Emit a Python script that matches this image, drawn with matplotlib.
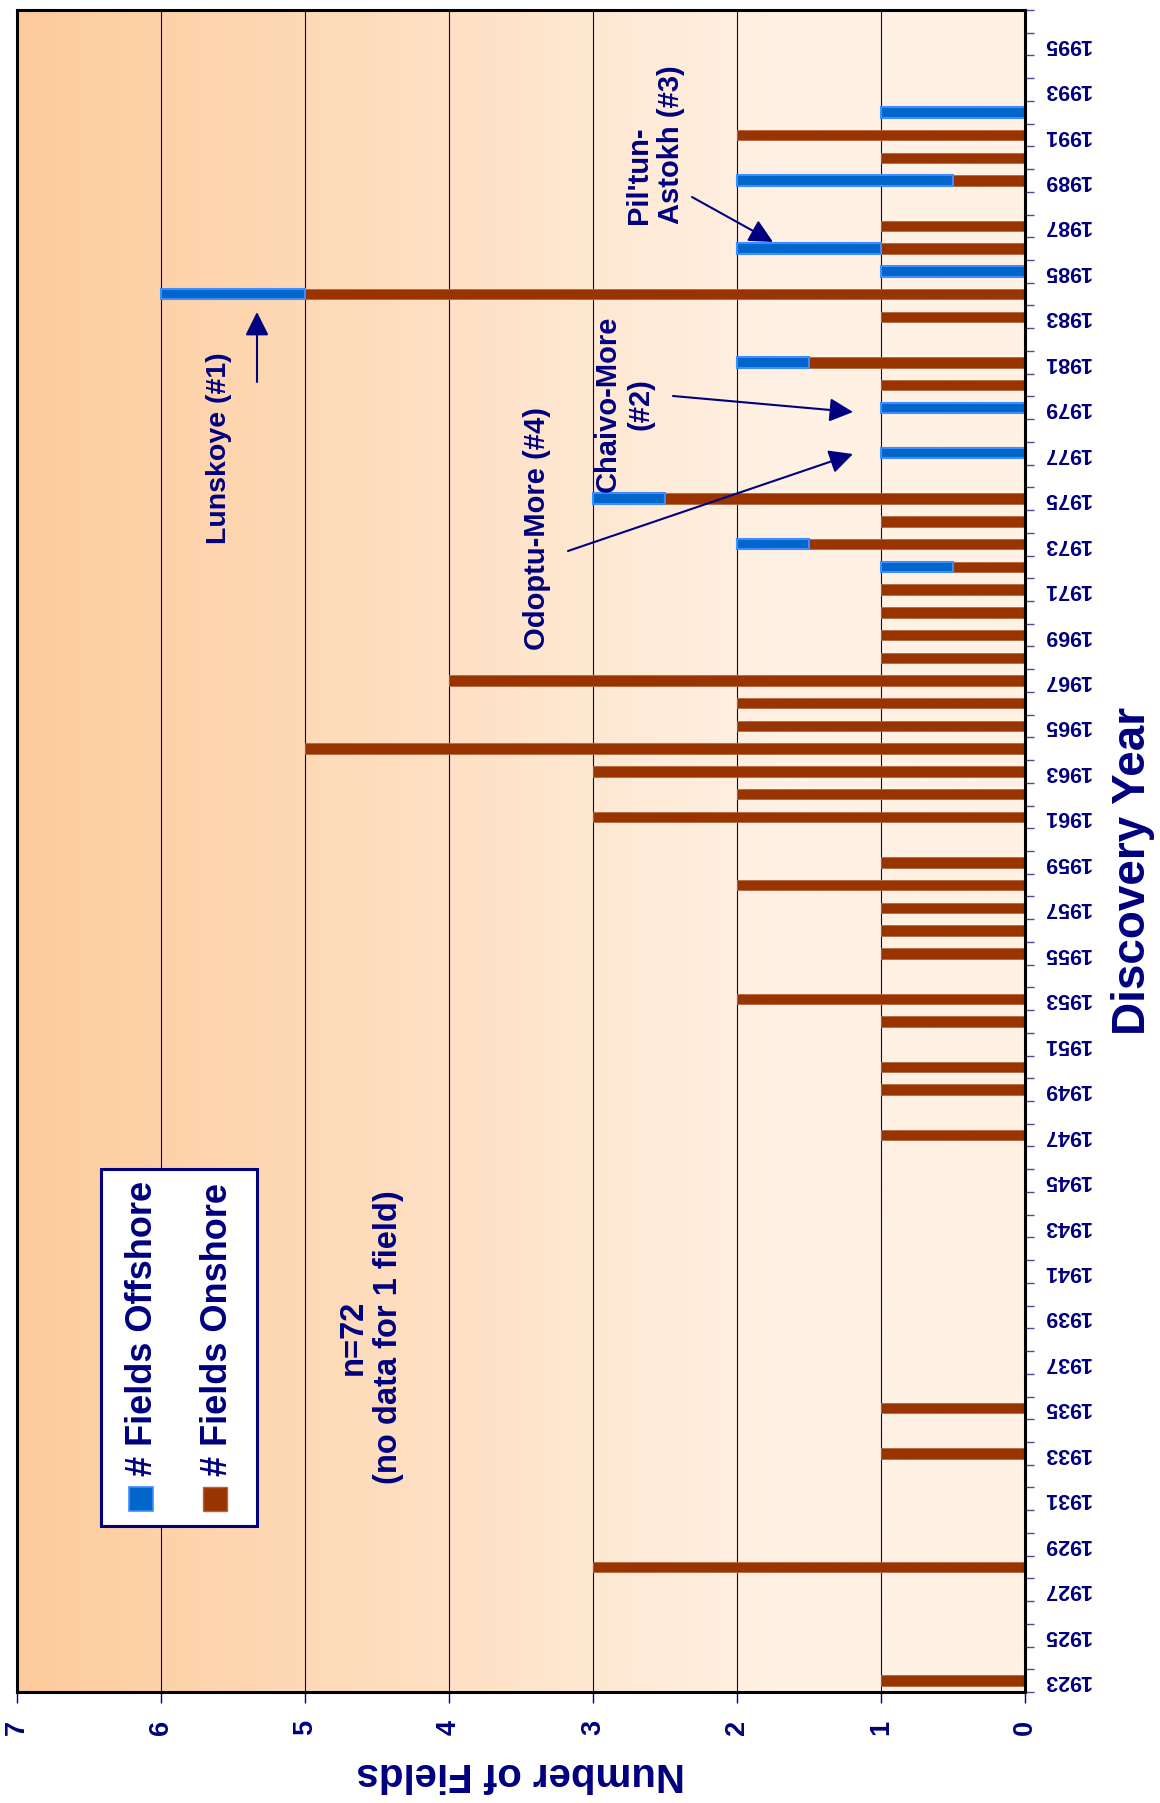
import numpy as np
import matplotlib
matplotlib.use('Agg')
import matplotlib.pyplot as plt
from matplotlib.patches import Rectangle

plt.rcParams['font.family'] = ['Liberation Sans', 'DejaVu Sans']
plt.rcParams['font.weight'] = 'bold'

# discovery years that have at least one field
years = [1923, 1928, 1933, 1935, 1947, 1949, 1950, 1952, 1953,
         1955, 1956, 1957, 1958, 1959,
         1961, 1962, 1963, 1964, 1965, 1966, 1967,
         1968, 1969, 1970, 1971, 1972, 1973, 1974, 1975,
         1977, 1979, 1980, 1981, 1983, 1984, 1985, 1986, 1987,
         1989, 1990, 1991, 1992]
onshore = [1, 3, 1, 1, 1, 1, 1, 1, 2,
           1, 1, 1, 2, 1,
           3, 2, 3, 5, 2, 2, 4,
           1, 1, 1, 1, 0.5, 1.5, 1, 2.5,
           0, 0, 1, 1.5, 1, 5, 0, 1, 1,
           0.5, 1, 2, 0]
offshore = [0, 0, 0, 0, 0, 0, 0, 0, 0,
            0, 0, 0, 0, 0,
            0, 0, 0, 0, 0, 0, 0,
            0, 0, 0, 0, 0.5, 0.5, 0, 0.5,
            1, 1, 0, 0.5, 0, 1, 1, 1, 0,
            1.5, 0, 0, 1]
year_labels = list(range(1923, 1997, 2))
value_ticks = [0, 1, 2, 3, 4, 5, 6, 7]

NAVY = '#000080'
BROWN = '#993300'
BLUE = '#0066CC'

W, H = 1160, 1803
def fx(px):
    return px / W
def fy(py):
    return 1 - py / H

fig = plt.figure(figsize=(11.6, 18.03), dpi=100)
ax = fig.add_axes([fx(17), fy(1692), (1025 - 17) / W, (1692 - 10) / H])

ax.set_xlim(7, 0)
ax.set_ylim(1922.5, 1996.5)

# background gradient (orange on the left, pale on the right)
c0 = np.array([253, 203, 155]) / 255
c1 = np.array([255, 241, 227]) / 255
t = np.linspace(0, 1, 300)
t = np.clip(t / 0.75, 0, 1)
grad = (c0[None, :] * (1 - t[:, None]) + c1[None, :] * t[:, None])[None, :, :]
ax.imshow(grad, extent=[7, 0, 1922.5, 1996.5], aspect='auto', zorder=0,
          interpolation='bilinear')

for v in value_ticks[1:-1]:
    ax.axvline(v, color=NAVY, lw=0.8, zorder=1)

yrs = np.array(years)
on = np.array(onshore, dtype=float)
off = np.array(offshore, dtype=float)
m_on = on > 0
m_off = off > 0
ax.barh(yrs[m_on], on[m_on], height=0.46, color=BROWN, edgecolor='#B5683E',
        lw=0.6, zorder=3)
ax.barh(yrs[m_off], off[m_off], left=on[m_off], height=0.46, color=BLUE,
        edgecolor='#3F8CFF', lw=1.5, zorder=3)

for s in ax.spines.values():
    s.set_color('black')
    s.set_linewidth(2.2)
    s.set_zorder(5)

# value axis (bottom)
ax.set_xticks(value_ticks)
ax.tick_params(axis='x', direction='out', length=8, width=1, color=NAVY,
               labelcolor=NAVY, labelsize=19.5, pad=12, labelrotation=90)

# year axis (right)
ax.yaxis.tick_right()
ax.set_yticks(year_labels)
ax.set_yticks(np.arange(1922.5, 1997, 1), minor=True)
ax.tick_params(axis='y', which='major', length=0, labelcolor=NAVY,
               labelsize=15.5, pad=13)
ax.tick_params(axis='y', which='minor', direction='out', length=6.5,
               width=1, color='#4a4a9a')
for lab in ax.get_yticklabels():
    lab.set_rotation(180)
    lab.set_va('center')
for lab in ax.get_xticklabels():
    lab.set_fontweight('bold')

fig.text(fx(1133), fy(871), 'Discovery Year', rotation=90, fontsize=33,
         color=NAVY, ha='center', va='center', fontweight='bold')
fig.text(fx(521), fy(1774), 'Number of Fields', rotation=180, fontsize=29,
         color=NAVY, ha='center', va='center', fontweight='bold')

# legend
fig.patches.append(Rectangle((fx(101), fy(1526)), (257 - 101) / W, (1526 - 1169) / H,
                             transform=fig.transFigure, facecolor='white',
                             edgecolor=NAVY, lw=2.2, zorder=6))
fig.patches.append(Rectangle((fx(129), fy(1511)), 24 / W, 24 / H,
                             transform=fig.transFigure, facecolor=BLUE,
                             edgecolor='#3F8CFF', lw=1.2, zorder=7))
fig.patches.append(Rectangle((fx(203), fy(1511)), 24 / W, 24 / H,
                             transform=fig.transFigure, facecolor=BROWN,
                             edgecolor='#B5683E', lw=1.0, zorder=7))
fig.text(fx(142), fy(1476), '# Fields Offshore', rotation=90, fontsize=26,
         color=NAVY, ha='center', va='bottom', zorder=8)
fig.text(fx(217), fy(1476), '# Fields Onshore', rotation=90, fontsize=26,
         color=NAVY, ha='center', va='bottom', zorder=8)

fig.text(fx(371), fy(1337), 'n=72\n(no data for 1 field)', rotation=90,
         fontsize=23.5, color=NAVY, ha='center', va='center',
         multialignment='center')

# field annotations
fig.text(fx(219), fy(448), 'Lunskoye (#1)', rotation=90, fontsize=20.5,
         color=NAVY, ha='center', va='center')
fig.text(fx(537), fy(528), 'Odoptu-More (#4)', rotation=90, fontsize=21,
         color=NAVY, ha='center', va='center')
fig.text(fx(624), fy(404), 'Chaivo-More\n(#2)', rotation=90, fontsize=21,
         color=NAVY, ha='center', va='center', multialignment='center')
fig.text(fx(655), fy(145), "Pil'tun-\nAstokh (#3)", rotation=90, fontsize=21,
         color=NAVY, ha='center', va='center', multialignment='left')

arrows = [((257, 382), (257, 312)),
          ((568, 551), (853, 454)),
          ((673, 396), (853, 412)),
          ((692, 197), (773, 242))]
for (x0, y0), (x1, y1) in arrows:
    ax.annotate('', xy=(fx(x1), fy(y1)), xytext=(fx(x0), fy(y0)),
                xycoords='figure fraction', textcoords='figure fraction',
                arrowprops=dict(arrowstyle='-|>,head_length=0.8,head_width=0.4',
                                mutation_scale=18, color=NAVY, lw=1.5,
                                shrinkA=0, shrinkB=0), zorder=6)

fig.savefig('out.png', dpi=100, facecolor='white')
